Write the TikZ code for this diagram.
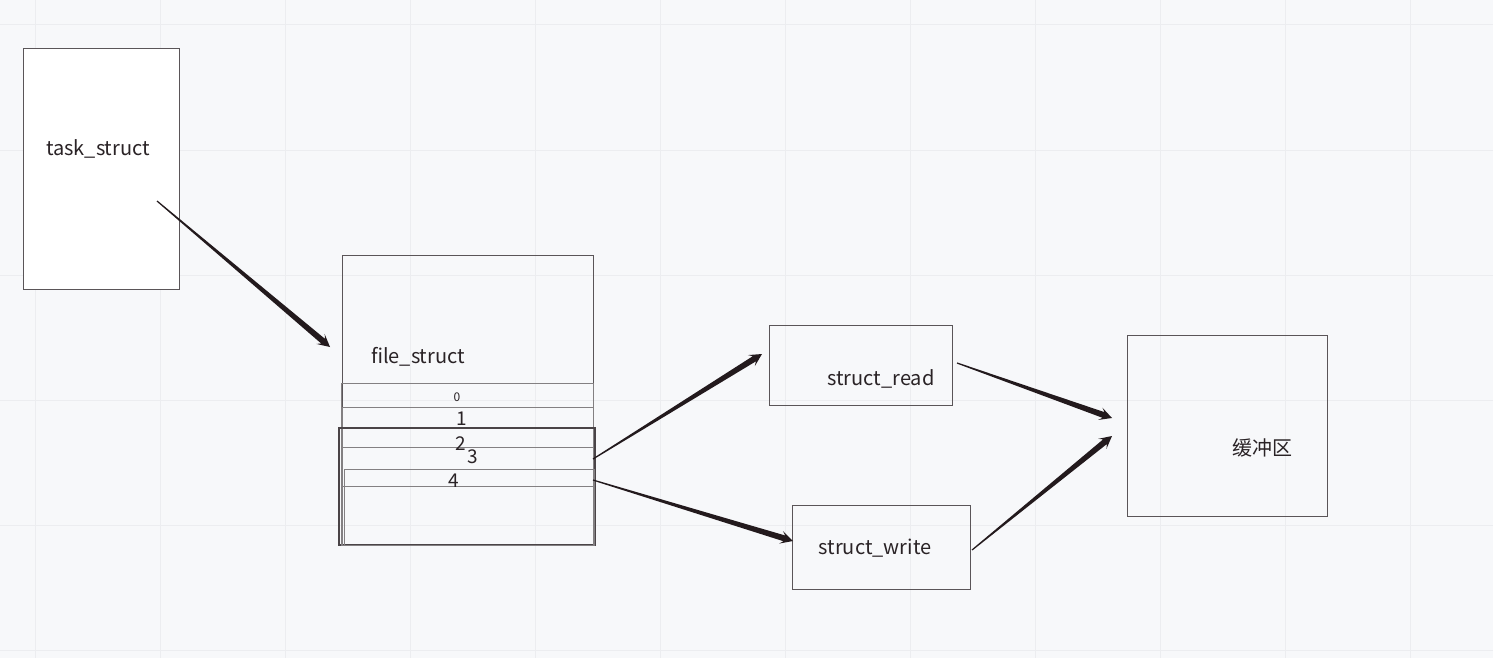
\documentclass[tikz,border=0pt]{standalone}
\usepackage{fontspec}
\setmainfont{Noto Sans CJK SC}
\usetikzlibrary{calc}
\definecolor{bg}{HTML}{F7F8FA}
\definecolor{gridc}{HTML}{ECEDF0}
\definecolor{edge}{HTML}{5A5558}
\definecolor{ink}{HTML}{2A2326}
\definecolor{arr}{HTML}{231A1D}
\newcommand\taperarrow[2]{%
  \coordinate (tn) at ($(#2)!9pt!(#1)$);
  \coordinate (tw) at ($(#2)!12.5pt!(#1)$);
  \fill[arr] ($(#1)!0.6pt!90:(#2)$) -- ($(tn)!3pt!90:(#2)$) -- ($(tw)!6.5pt!90:(#2)$) -- (#2)
    -- ($(tw)!6.5pt!-90:(#2)$) -- ($(tn)!3pt!-90:(#2)$) -- ($(#1)!0.6pt!-90:(#2)$) -- cycle;
}
\tikzset{
  gridline/.style={draw=gridc, line width=1pt},
  box/.style={draw=edge, line width=1pt, inner sep=0pt, outer sep=0pt},
  rowbox/.style={draw=edge!75, line width=0.9pt},
  rowboxdark/.style={draw=ink!85, line width=1.3pt},
  lbl/.style={text=ink, font=\fontsize{20}{22}\selectfont, inner sep=0pt},
  num/.style={text=ink, font=\fontsize{19}{21}\selectfont, inner sep=0pt},
}
\begin{document}
\begin{tikzpicture}[x=1pt, y=-1pt]
\fill[bg] (0,0) rectangle (1493,658);
\useasboundingbox (0,0) rectangle (1493,658);
\foreach \x in {35,160,...,1410} \draw[gridline] (\x,0) -- (\x,658);
\foreach \y in {25,150,...,650} \draw[gridline] (0,\y) -- (1493,\y);

% task_struct
\node[box, fill=white, minimum width=156pt, minimum height=240pt] (task) at (101,169) {};
\node[lbl] (tasklbl) at (98,149) {task\_struct};

% file_struct
\node[box, minimum width=251pt, minimum height=290pt] (file) at (467.5,400) {};
\node[lbl] (filelbl) at (418,357) {file\_struct};
\draw[rowbox] (341,383) rectangle (593,545);
\draw[rowbox] (342,407) rectangle (593,545);
\draw[rowboxdark] (339,428) rectangle (595,545);
\draw[rowbox] (341,447) rectangle (593,545);
\draw[rowbox] (344,469) rectangle (594,545);
\draw[rowbox] (342,486) rectangle (593,545);
\node[text=ink, font=\fontsize{12}{13}\selectfont, inner sep=0pt] (n0) at (457,397) {0};
\node[num] (n1) at (462,419) {1};
\node[num] (n2) at (461,444) {2};
\node[num] (n3) at (473,457) {3};
\node[num] (n4) at (454,481) {4};

% struct_read / struct_write
\node[box, minimum width=183pt, minimum height=80pt] (read) at (860.5,365) {};
\node[lbl] (readlbl) at (881,379) {struct\_read};
\node[box, minimum width=178pt, minimum height=84pt] (write) at (881,547) {};
\node[lbl] (writelbl) at (875,548) {struct\_write};

% buffer
\node[box, minimum width=200pt, minimum height=181pt] (buf) at (1227,425.5) {};
\node[lbl] (buflbl) at (1262,448) {缓冲区};

% arrows
\coordinate (a1s) at (157,201);  \coordinate (a1e) at (330,347);
\coordinate (a2s) at (593,459);  \coordinate (a2e) at (762,354);
\coordinate (a3s) at (593,480);  \coordinate (a3e) at (793,541);
\coordinate (a4s) at (957,363);  \coordinate (a4e) at (1112,418);
\coordinate (a5s) at (972,550);  \coordinate (a5e) at (1112,436);
\taperarrow{a1s}{a1e}
\taperarrow{a2s}{a2e}
\taperarrow{a3s}{a3e}
\taperarrow{a4s}{a4e}
\taperarrow{a5s}{a5e}
\end{tikzpicture}
\end{document}
